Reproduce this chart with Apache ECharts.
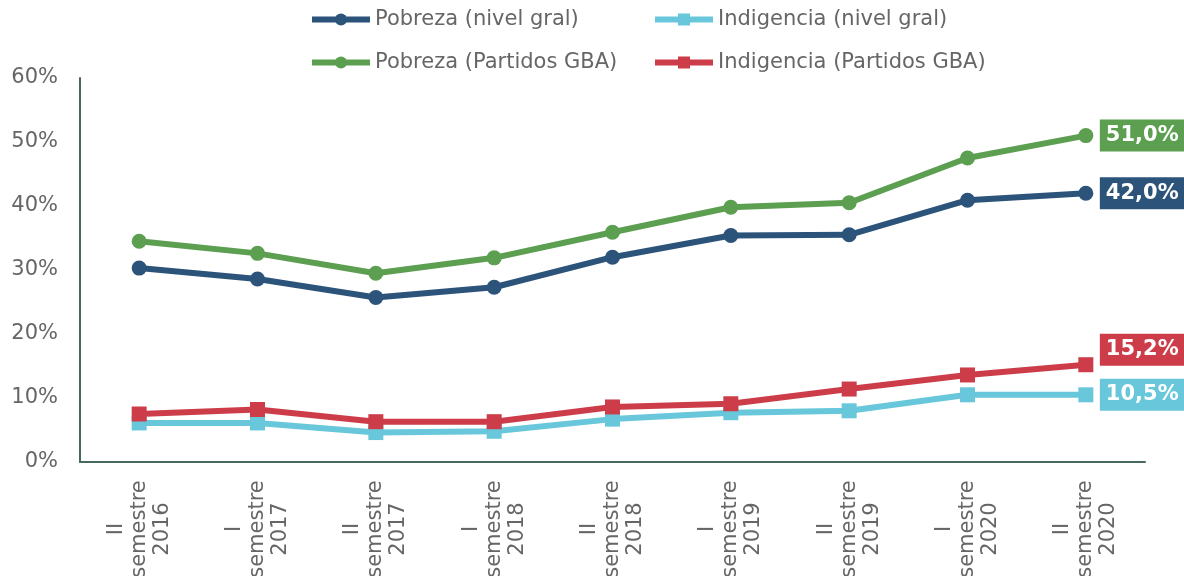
<!DOCTYPE html>
<html>
<head>
<meta charset="utf-8">
<script src="https://cdn.jsdelivr.net/npm/echarts@6/dist/echarts.min.js"></script>
<style>
  html, body { margin: 0; padding: 0; background: #fff; }
  #chart { width: 1184px; height: 576px; }
</style>
</head>
<body>
<div id="chart"></div>
<script>
// periodos (semestres)
const categories = [
  "II semestre 2016", "I semestre 2017", "II semestre 2017",
  "I semestre 2018", "II semestre 2018", "I semestre 2019",
  "II semestre 2019", "I semestre 2020", "II semestre 2020"
];
const pobrezaGral = [30.3, 28.6, 25.7, 27.3, 32.0, 35.4, 35.5, 40.9, 42.0];
const indigenciaGral = [6.1, 6.1, 4.6, 4.8, 6.7, 7.7, 8.0, 10.5, 10.5];
const pobrezaGBA = [34.5, 32.6, 29.5, 31.9, 35.9, 39.8, 40.5, 47.5, 51.0];
const indigenciaGBA = [7.5, 8.2, 6.3, 6.3, 8.6, 9.1, 11.4, 13.6, 15.2];
const yTicks = [0, 10, 20, 30, 40, 50, 60];

const axisColor = "#46695f";
const textColor = "#666666";
const font = "DejaVu Sans";

const chart = echarts.init(document.getElementById("chart"));

function fmt(v) {
  return v.toFixed(1).replace(".", ",") + "%";
}

function makeSeries(name, data, color, symbol, labelOffset) {
  return {
    name: name,
    type: "line",
    data: data,
    symbol: symbol,
    symbolSize: 15,
    showSymbol: true,
    lineStyle: { color: color, width: 6 },
    itemStyle: { color: color },
    endLabel: {
      show: true,
      formatter: (p) => fmt(p.value),
      color: "#fff",
      fontFamily: font,
      fontWeight: "bold",
      fontSize: 21,
      backgroundColor: color,
      padding: [6, 8, 5, 6],
      distance: 14,
      offset: labelOffset || [0, 0],
    },
    emphasis: { disabled: true },
  };
}

// una leyenda por item para fijar columnas
function makeLegend(left, top, name) {
  return {
    left: left,
    top: top,
    padding: 0,
    itemWidth: 58,
    itemHeight: 15,
    lineStyle: { width: 6 },
    textStyle: { color: textColor, fontFamily: font, fontSize: 21 },
    data: [name],
  };
}

const option = {
  animation: false,
  legend: [
    makeLegend(309, 9, "Pobreza (nivel gral)"),
    makeLegend(652, 9, "Indigencia (nivel gral)"),
    makeLegend(309, 52, "Pobreza (Partidos GBA)"),
    makeLegend(652, 52, "Indigencia (Partidos GBA)"),
  ],
  grid: { left: 80, right: 39, top: 78, bottom: 114, outerBoundsMode: "none" },
  xAxis: {
    type: "category",
    data: categories,
    boundaryGap: true,
    axisLine: { show: true, lineStyle: { color: axisColor, width: 2 } },
    axisTick: { show: false },
    axisLabel: {
      interval: 0,
      rotate: 90,
      margin: 15,
      formatter: (v) => v.split(" ").map((s) => "{a|" + s + "}").join("\n"),
      rich: {
        a: {
          fontFamily: font,
          fontSize: 21,
          color: textColor,
          width: 104,
          align: "center",
          lineHeight: 23,
        },
      },
    },
  },
  yAxis: {
    type: "value",
    min: yTicks[0],
    max: yTicks[yTicks.length - 1],
    interval: 10,
    axisLine: { show: true, lineStyle: { color: axisColor, width: 2 } },
    axisTick: { show: false },
    splitLine: { show: false },
    axisLabel: {
      formatter: "{value}%",
      margin: 22,
      fontFamily: font,
      fontSize: 21,
      color: textColor,
    },
  },
  series: [
    makeSeries("Indigencia (nivel gral)", indigenciaGral, "#68c7da", "rect"),
    makeSeries("Indigencia (Partidos GBA)", indigenciaGBA, "#cc3d49", "rect", [0, -15]),
    makeSeries("Pobreza (nivel gral)", pobrezaGral, "#2c5379", "circle"),
    makeSeries("Pobreza (Partidos GBA)", pobrezaGBA, "#5c9f51", "circle"),
  ],
};

chart.setOption(option);
</script>
</body>
</html>
